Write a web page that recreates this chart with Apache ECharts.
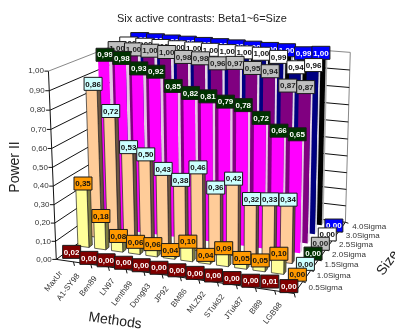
<!DOCTYPE html>
<html>
<head>
<meta charset="utf-8">
<style>html,body{margin:0;padding:0;background:#fff}#chart{width:395px;height:333px}</style>
<script src="https://cdn.jsdelivr.net/npm/echarts@6/dist/echarts.min.js"></script>
</head>
<body>
<div id="chart"></div>
<script>
// Categories and tick labels
const methods = ['MaxUr','A1-SY98','Ben89','LN97','Lenth89','Dong93','JP92','BM86','MLZ92','STuk62','JTuk87','Bl89','LGB98'];
const sizes = ['0.5Sigma','1.0Sigma','1.5Sigma','2.0Sigma','2.5Sigma','3.0Sigma','4.0Sigma'];
const valueTicks = [0,0.1,0.2,0.3,0.4,0.5,0.6,0.7,0.8,0.9,1];

// Power per method, one list per effect size
const power05 = [0.02,0,0,0,0,0,0,0,0,0,0,0.01,0];
const power10 = [0.35,0.18,0.08,0.06,0.06,0.04,0.10,0.04,0.09,0.05,0.05,0.10,0];
const power15 = [0.86,0.72,0.53,0.50,0.43,0.38,0.46,0.36,0.42,0.32,0.33,0.34,0];
const power20 = [0.99,0.98,0.93,0.92,0.85,0.82,0.81,0.79,0.78,0.72,0.66,0.65,0];
const power25 = [1,1,1,1,0.98,0.98,0.96,0.97,0.95,0.94,0.87,0.87,0];
const power30 = [1,1,1,1,1,1,1,1,1,0.99,0.94,0.96,0];
const power40 = [1,1,1,1,1,1,1,1,1,1,0.99,1,0];
const powerRows = [power05,power10,power15,power20,power25,power30,power40];

// Row styling: bar front, bar side, bar outline, label fill, label text
const rowStyles = [
  {front:'#800000',side:'#400000',edge:'#222',label:'#800000',text:'#fff'},
  {front:'#FFFF99',side:'#7d7d40',edge:'#222',label:'#FF9900',text:'#111'},
  {front:'#FFCC99',side:'#6b5540',edge:'#222',label:'#CCFFFF',text:'#111'},
  {front:'#FF00FF',side:'#e4c8e4',edge:null,label:'#003300',text:'#fff'},
  {front:'#800080',side:'#e6d8e6',edge:null,label:'#C0C0C0',text:'#222'},
  {front:'#000080',side:'#d4d4e4',edge:null,label:'#FFFFFF',text:'#111'},
  {front:'#000000',side:'#b0b0b0',edge:null,label:'#0000FF',text:'#fff'}
];

// Oblique camera: solved from the box corners [u,v,w] -> [screen x, screen y]
const boxCorners = [
  [[0,0,0],[56,259]],[[1,0,0],[295,293]],[[1,1,0],[345,223]],
  [[0,0,1],[48,72]],[[1,1,1],[350,52]],[[0,1,1],[138,36]]
];
function solveCamera(corners){
  const rows=[],rhs=[];
  corners.forEach(([[u,v,w],[X,Y]])=>{
    rows.push([u,v,w,1,0,0,0,0,-X*u,-X*v,-X*w]);rhs.push(X);
    rows.push([0,0,0,0,u,v,w,1,-Y*u,-Y*v,-Y*w]);rhs.push(Y);
  });
  const n=11,A=[];
  for(let i=0;i<n;i++){
    A.push(new Array(n+1).fill(0));
    for(let j=0;j<n;j++)rows.forEach(r=>A[i][j]+=r[i]*r[j]);
    rows.forEach((r,k)=>A[i][n]+=r[i]*rhs[k]);
  }
  for(let c=0;c<n;c++){
    let p=c;for(let i=c+1;i<n;i++)if(Math.abs(A[i][c])>Math.abs(A[p][c]))p=i;
    [A[c],A[p]]=[A[p],A[c]];
    for(let i=0;i<n;i++){
      if(i===c)continue;
      const f=A[i][c]/A[c][c];
      for(let j=c;j<=n;j++)A[i][j]-=f*A[c][j];
    }
  }
  return A.map((r,i)=>r[n]/r[i]);
}
const cam=solveCamera(boxCorners);
function project(u,v,w){
  const d=cam[8]*u+cam[9]*v+cam[10]*w+1;
  return [(cam[0]*u+cam[1]*v+cam[2]*w+cam[3])/d,(cam[4]*u+cam[5]*v+cam[6]*w+cam[7])/d];
}
function poly(points,fill,stroke){
  return {type:'polygon',shape:{points},style:{fill,stroke,lineWidth:stroke?0.7:0}};
}
function line(a,b,stroke,lineWidth){
  return {type:'line',shape:{x1:a[0],y1:a[1],x2:b[0],y2:b[1]},style:{stroke,lineWidth:lineWidth||1,fill:null}};
}
function label(text,x,y,opts){
  return {type:'text',x,y,rotation:opts.rotation||0,
    style:{text,align:opts.align||'center',verticalAlign:'middle',fill:opts.fill||'#333',
      font:opts.font||'8px "Liberation Sans", Arial, sans-serif'}};
}
// Maps a (method, value) pair through the chart's axes onto box coordinates.
function toBox(params,api,cat,val){
  const s=params.coordSys,p=api.coord([cat,val]);
  return {u:(p[0]-s.x)/s.width,w:(s.y+s.height-p[1])/s.height,band:api.size([1,0])[0]/s.width};
}

const rowCount=powerRows.length;
const barCells=[];
for(let r=rowCount-1;r>=0;r--)powerRows[r].forEach((val,c)=>barCells.push([c,val,r]));

function renderBar(params,api){
  const c=api.value(0),val=api.value(1),r=api.value(2),st=rowStyles[r];
  const b=toBox(params,api,c,val);
  const u0=b.u-b.band*0.33,u1=b.u+b.band*0.33;
  const v0=(r+0.5-0.13)/rowCount,v1=(r+0.5+0.13)/rowCount,w=Math.max(b.w,0.002);
  return {type:'group',children:[
    poly([project(u1,v0,0),project(u1,v1,0),project(u1,v1,w),project(u1,v0,w)],st.side,st.edge),
    poly([project(u0,v0,w),project(u1,v0,w),project(u1,v1,w),project(u0,v1,w)],st.front,st.edge),
    poly([project(u0,v0,0),project(u1,v0,0),project(u1,v0,w),project(u0,v0,w)],st.front,st.edge)
  ]};
}
function renderValueLabel(params,api){
  const c=api.value(0),val=api.value(1),r=api.value(2),st=rowStyles[r];
  const b=toBox(params,api,c,val);
  const p=project(b.u,(r+0.5)/rowCount,b.w);
  return {type:'group',children:[
    {type:'rect',shape:{x:p[0]-9,y:p[1]-6.5,width:18,height:13},style:{fill:st.label,stroke:'#1a1a1a',lineWidth:1}},
    label(val.toFixed(2).replace('.',','),p[0],p[1]+0.5,{fill:st.text,font:'bold 8px "Liberation Sans", Arial, sans-serif'})
  ]};
}
// Walls, gridlines, value ticks and value tick labels
function renderValueAxis(params,api){
  const t=api.value(1),b=toBox(params,api,0,t);
  const a=project(0,0,b.w),back=project(0,1,b.w),right=project(1,1,b.w);
  const tone=t===1?'#888':'#111';
  return {type:'group',children:[
    line(a,back,tone),
    line(back,right,tone),
    line([a[0]-4,a[1]],a,'#111'),
    label(t.toFixed(2).replace('.',','),a[0]-4.5,a[1],{align:'right'})
  ]};
}
// Floor edge ticks and method labels
function renderMethodAxis(params,api){
  const c=api.value(0),b=toBox(params,api,c,0);
  const edge=project(b.u+b.band/2,0,0),mid=project(b.u,0,0);
  return {type:'group',children:[
    line(edge,[edge[0]+1,edge[1]+4],'#111'),
    label(methods[c],mid[0]-4,mid[1]+11.5,{align:'right',rotation:52*Math.PI/180,font:'8px "Liberation Sans", Arial, sans-serif'})
  ]};
}
// Side edge ticks and size labels
function renderSizeAxis(params,api){
  const r=api.value(0),b=toBox(params,api,12,0),u=b.u+b.band/2;
  const mid=project(u,(r+0.5)/rowCount,0),edge=project(u,(r+1)/rowCount,0);
  return {type:'group',children:[
    line(edge,[edge[0]+3,edge[1]+1],'#111'),
    label(sizes[r],mid[0]+10,mid[1],{align:'left'})
  ]};
}
function renderFrame(params,api){
  const s=[project(0,0,0),project(0,0,1),project(0,1,1),project(1,1,1),project(1,1,0),project(1,0,0)];
  return {type:'group',children:[
    line(s[0],s[1],'#111'),
    line(s[2],project(0,1,0),'#888'),
    line(s[3],s[4],'#888'),
    line(s[0],s[5],'#111'),
    line(s[5],s[4],'#111')
  ]};
}

const chart=echarts.init(document.getElementById('chart'),null,{renderer:'canvas'});
chart.setOption({
  animation:false,
  backgroundColor:'#fff',
  title:{text:'Six active contrasts: Beta1~6=Size',left:197,top:8,textAlign:'center',
    textStyle:{fontFamily:'"Liberation Sans", Arial, sans-serif',fontSize:11,fontWeight:'normal',color:'#222'}},
  grid:{left:0,right:0,top:0,bottom:0},
  xAxis:{type:'category',data:methods,show:false},
  yAxis:{type:'value',min:0,max:1,interval:0.1,show:false},
  graphic:[
    {type:'text',x:15,y:167,rotation:Math.PI/2,style:{text:'Power II',align:'center',verticalAlign:'middle',fill:'#222',font:'14px "Liberation Sans", Arial, sans-serif'}},
    {type:'text',x:115,y:321,rotation:-8*Math.PI/180,style:{text:'Methods',align:'center',verticalAlign:'middle',fill:'#222',font:'14px "Liberation Sans", Arial, sans-serif'}},
    {type:'text',x:388,y:263,rotation:54*Math.PI/180,style:{text:'Size',align:'center',verticalAlign:'middle',fill:'#222',font:'14px "Liberation Sans", Arial, sans-serif'}}
  ],
  series:[
    {type:'custom',name:'frame',data:[[0,0]],renderItem:renderFrame,z:1,silent:true},
    {type:'custom',name:'valueAxis',data:valueTicks.map(t=>[0,t]),renderItem:renderValueAxis,z:2,silent:true},
    {type:'custom',name:'methodAxis',data:methods.map((m,i)=>[i,0]),renderItem:renderMethodAxis,z:2,silent:true},
    {type:'custom',name:'sizeAxis',data:sizes.map((s,i)=>[i,0]),renderItem:renderSizeAxis,z:2,silent:true},
    {type:'custom',name:'bars',data:barCells,renderItem:renderBar,z:3,silent:true},
    {type:'custom',name:'values',data:barCells,renderItem:renderValueLabel,z:4,silent:true}
  ]
});
</script>
</body>
</html>
